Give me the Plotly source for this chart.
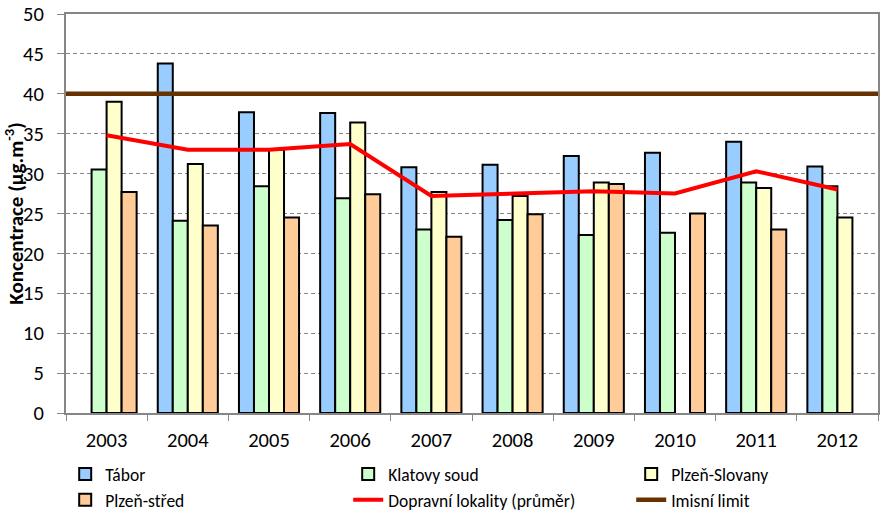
import plotly.graph_objects as go

years = ["2003", "2004", "2005", "2006", "2007", "2008", "2009", "2010", "2011", "2012"]
tabor = [None, 43.8, 37.7, 37.6, 30.8, 31.1, 32.2, 32.6, 34.0, 30.9]
klatovy = [30.5, 24.1, 28.4, 26.9, 23.0, 24.2, 22.3, 22.6, 28.9, 28.4]
slovany = [39.0, 31.2, 33.0, 36.4, 27.7, 27.2, 28.9, None, 28.2, 24.5]
stred = [27.7, 23.5, 24.5, 27.4, 22.1, 24.9, 28.7, 25.0, 23.0, None]
prumer = [34.8, 33.0, 33.0, 33.7, 27.2, 27.5, 27.8, 27.5, 30.3, 28.0]
limit_value = 40
y_ticks = [0, 5, 10, 15, 20, 25, 30, 35, 40, 45, 50]

FONT = "Carlito, Calibri, Lato, 'Liberation Sans', Arial, sans-serif"
AXIS_COL = "#868686"

fig = go.Figure()
bar_series = [
    ("Tábor", tabor, "#99CCFF"),
    ("Klatovy soud", klatovy, "#CCFFCC"),
    ("Plzeň-Slovany", slovany, "#FFFFCC"),
    ("Plzeň-střed", stred, "#FFCC99"),
]
for name, vals, col in bar_series:
    fig.add_trace(go.Bar(
        x=years, y=vals, name=name,
        marker=dict(color=col, line=dict(color="black", width=2)),
    ))

fig.add_trace(go.Scatter(
    x=years, y=prumer, name="Dopravní lokality (průměr)", mode="lines",
    line=dict(color="#FF0000", width=4),
))
fig.add_trace(go.Scatter(
    x=[0, 1], y=[limit_value, limit_value], name="Imisní limit", mode="lines",
    xaxis="x2", line=dict(color="#663300", width=4.5),
))

fig.update_layout(
    width=890, height=515,
    margin=dict(l=66, r=12, t=14, b=102, autoexpand=False),
    paper_bgcolor="white", plot_bgcolor="white",
    font=dict(family=FONT, size=20, color="black"),
    barmode="group", bargap=0.26, bargroupgap=0,
    showlegend=True,
    legend=dict(
        orientation="h", x=-0.001, xanchor="left", y=-0.108, yanchor="top",
        font=dict(size=17.5), entrywidth=238, entrywidthmode="pixels",
        traceorder="normal", itemclick=False, tracegroupgap=0,
        bgcolor="rgba(0,0,0,0)",
    ),
    xaxis=dict(
        type="category", showline=True, linecolor=AXIS_COL, linewidth=2, mirror=True,
        ticks="outside", tickson="boundaries", ticklen=6, tickcolor=AXIS_COL, tickwidth=1,
        showgrid=False, tickfont=dict(size=20.5), ticklabelstandoff=7,
    ),
    xaxis2=dict(overlaying="x", range=[0, 1], visible=False, fixedrange=True),
    yaxis=dict(
        range=[0, 50], tickvals=y_ticks, showline=True, linecolor=AXIS_COL, linewidth=2,
        mirror=True, ticks="outside", ticklen=7, tickcolor=AXIS_COL, tickwidth=1,
        showgrid=True, gridcolor=AXIS_COL, gridwidth=1, griddash="4px,3px",
        zeroline=False, tickfont=dict(size=20.5), ticklabelstandoff=9,
        title=dict(text="<b>Koncentrace (µg.m<sup>-3</sup>)</b>", font=dict(size=21), standoff=23),
    ),
)

fig.write_html("out.html", config={"displayModeBar": False},
               post_script="document.body.style.margin='0px';")
